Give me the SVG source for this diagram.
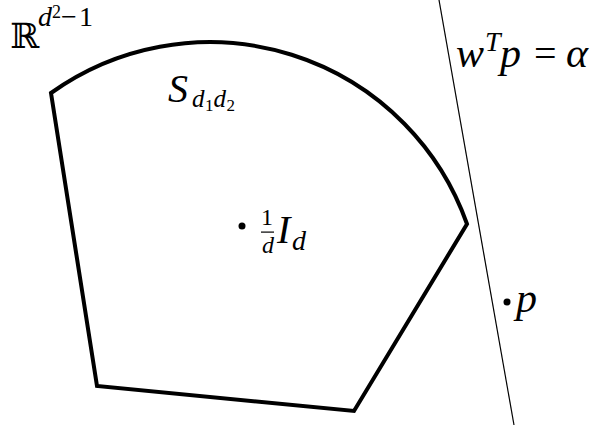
<svg xmlns="http://www.w3.org/2000/svg" width="597" height="429" viewBox="0 0 597 429">
<style>
.m{font-family:"Liberation Serif","DejaVu Serif",serif;font-style:italic;fill:#000}
.r{font-family:"Liberation Serif","DejaVu Serif",serif;font-style:normal;fill:#000}
.bb{font-family:"DejaVu Serif",serif;fill:#000}
</style>
<rect width="597" height="429" fill="#fff"/>
<g id="space-label">
<text class="bb" x="10" y="48" font-size="35">ℝ</text>
<text class="m" x="38" y="26" font-size="28">d</text>
<text class="r" x="52" y="18" font-size="18">2</text>
<text class="r" x="61" y="26" font-size="28">−</text>
<text class="r" x="79" y="26" font-size="28">1</text>
</g>
<g id="set">
<path d="M51 93 A273 273 0 0 1 467 224 L354 411 L97 386 Z" fill="none" stroke="#000" stroke-width="4" stroke-linejoin="miter"/>
<text class="m" x="168" y="102" font-size="40">S</text>
<text class="m" x="192" y="107" font-size="25">d</text>
<text class="r" x="205" y="111" font-size="17">1</text>
<text class="m" x="213.5" y="107" font-size="25">d</text>
<text class="r" x="226.5" y="111" font-size="17">2</text>
</g>
<g id="center">
<circle cx="242" cy="226" r="3.5" fill="#000"/>
<text class="r" x="267" y="225" font-size="24" text-anchor="middle">1</text>
<rect x="261" y="231.5" width="13" height="1.2" fill="#000"/>
<text class="m" x="268" y="253" font-size="24" text-anchor="middle">d</text>
<text class="m" x="277" y="243" font-size="40">I</text>
<text class="m" x="292" y="250" font-size="28">d</text>
</g>
<g id="hyperplane-label">
<text class="m" x="456" y="67" font-size="42">w</text>
<text class="m" x="485" y="51" font-size="28">T</text>
<text class="m" x="500" y="67" font-size="42">p</text>
<text class="r" x="534" y="67" font-size="40">=</text>
<text class="m" x="566" y="67" font-size="42">α</text>
</g>
<g id="point">
<circle cx="507" cy="302" r="3.5" fill="#000"/>
<text class="m" x="516" y="312" font-size="42">p</text>
</g>
<g id="connectors">
<line x1="439" y1="0" x2="514" y2="425" stroke="#000" stroke-width="1.2"/>
</g>
</svg>
